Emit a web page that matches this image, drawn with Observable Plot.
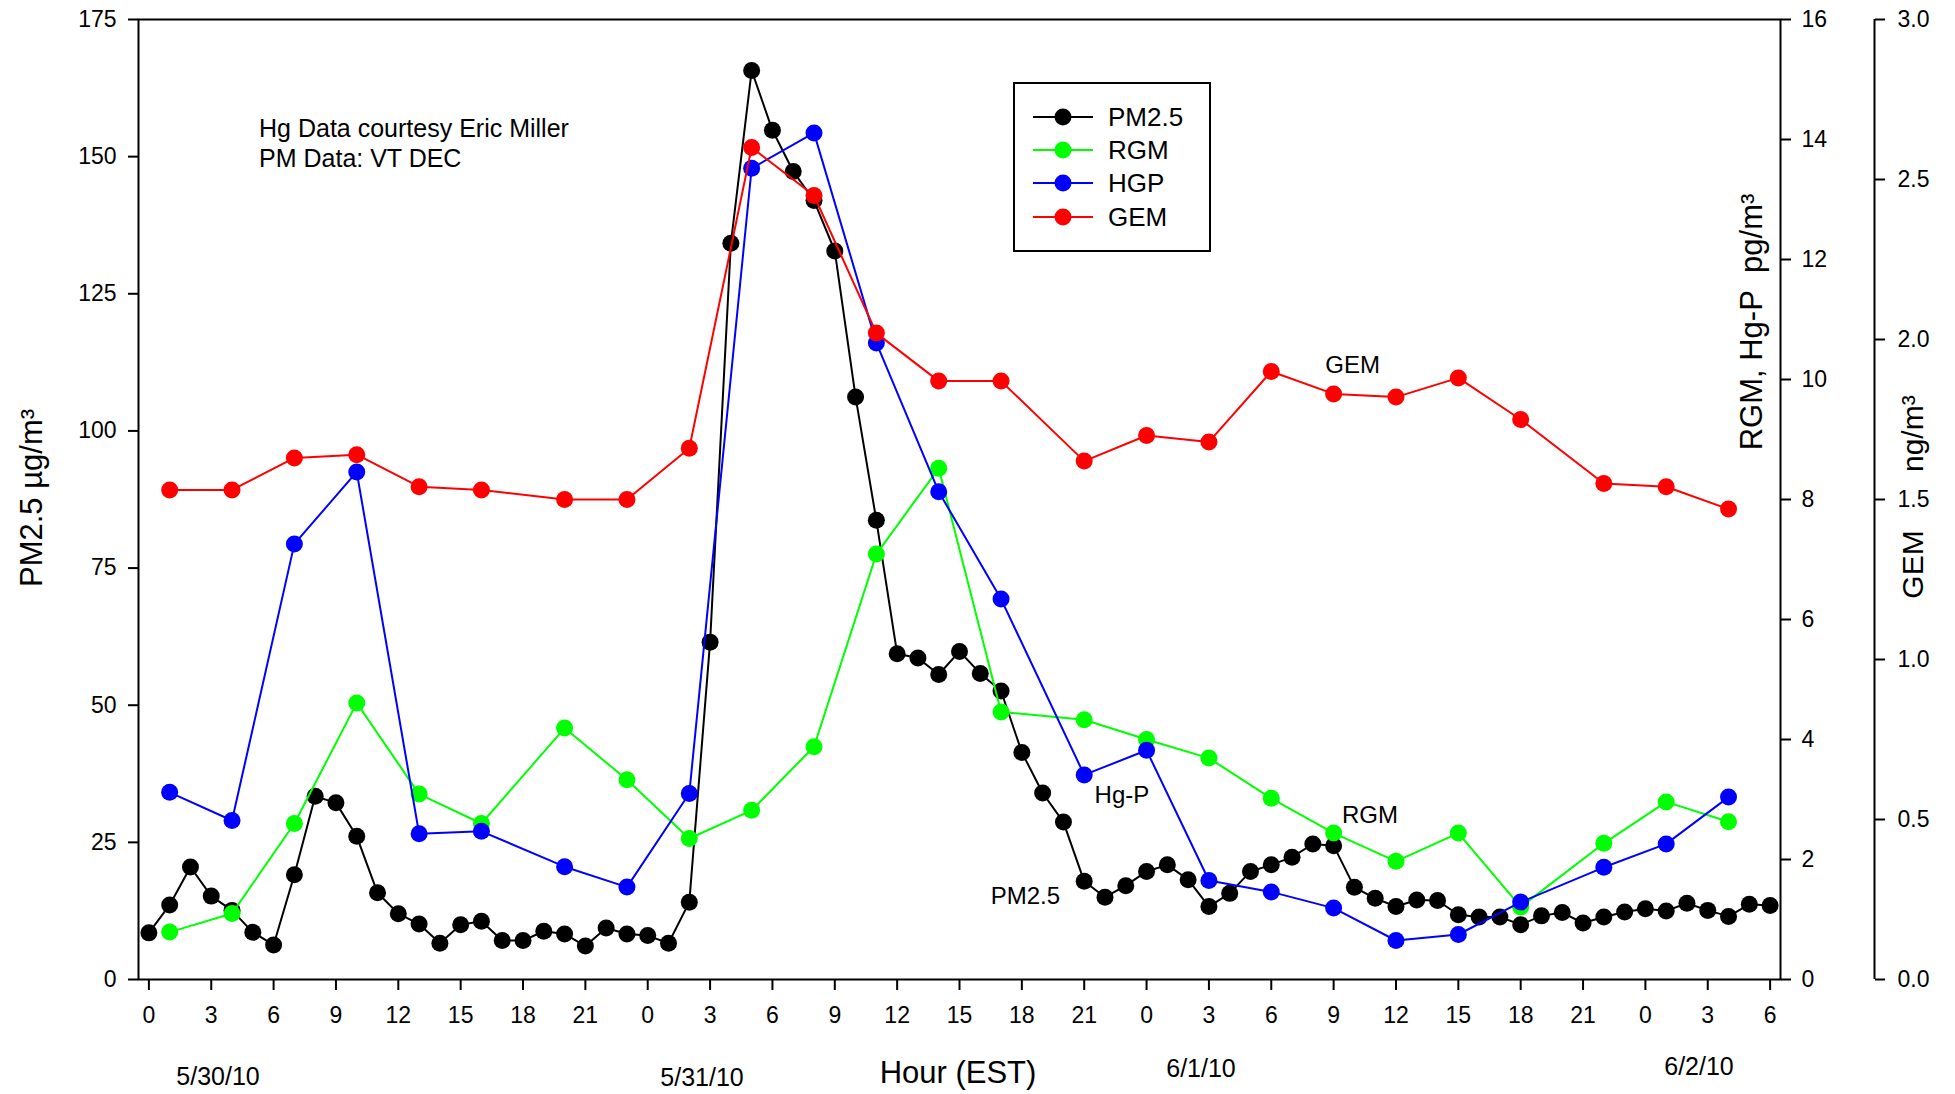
<!DOCTYPE html>
<html>
<head>
<meta charset="utf-8">
<script src="https://cdn.jsdelivr.net/npm/d3@7"></script>
<script src="https://cdn.jsdelivr.net/npm/@observablehq/plot@0.6"></script>
<style>
  html, body { margin: 0; padding: 0; background: #ffffff; }
  #chart svg { display: block; }
</style>
</head>
<body>
<div id="chart"></div>
<script>
// ---------- data ----------
// PM2.5 (µg/m3), hourly, starting 5/30/10 00:00 EST (hour 0) to 6/2/10 06:00 (hour 78)
const pm25 = [
  8.5, 13.6, 20.5, 15.2, 12.6, 8.6, 6.3, 19.1, 33.4, 32.2,
  26.1, 15.8, 12.0, 10.1, 6.6, 10.0, 10.6, 7.1, 7.1, 8.8,
  8.3, 6.1, 9.4, 8.3, 8.0, 6.6, 14.1, 61.5, 134.2, 165.7,
  154.8, 147.3, 142.0, 132.8, 106.2, 83.7, 59.4, 58.6, 55.6, 59.8,
  55.8, 52.6, 41.4, 34.0, 28.7, 17.9, 15.0, 17.1, 19.7, 20.9,
  18.2, 13.3, 15.7, 19.7, 20.9, 22.3, 24.7, 24.4, 16.8, 14.8,
  13.3, 14.5, 14.4, 11.8, 11.4, 11.4, 10.0, 11.6, 12.2, 10.3,
  11.4, 12.3, 12.9, 12.5, 13.9, 12.6, 11.5, 13.7, 13.5
];
// Mercury sampling hours (same hour axis)
const hgHours = [1, 4, 7, 10, 13, 16, 20, 23, 26, 29, 32, 35, 38, 41, 45, 48, 51, 54, 57, 60, 63, 66, 70, 73, 76];
// RGM (pg/m3)
const rgm = [0.79, 1.10, 2.60, 4.61, 3.09, 2.60, 4.19, 3.33, 2.35, 2.82, 3.88, 7.09, 8.52, 4.46, 4.33, 4.00, 3.69, 3.02, 2.44, 1.97, 2.44, 1.21, 2.27, 2.96, 2.63];
// HGP / Hg-P (pg/m3)
const hgp = [3.12, 2.65, 7.26, 8.46, 2.43, 2.47, 1.88, 1.54, 3.10, 13.52, 14.11, 10.61, 8.13, 6.34, 3.41, 3.82, 1.65, 1.46, 1.19, 0.65, 0.75, 1.29, 1.87, 2.26, 3.04];
// GEM (ng/m3)
const gem = [1.53, 1.53, 1.63, 1.64, 1.54, 1.53, 1.50, 1.50, 1.66, 2.60, 2.45, 2.02, 1.87, 1.87, 1.62, 1.70, 1.68, 1.90, 1.83, 1.82, 1.88, 1.75, 1.55, 1.54, 1.47];

const seriesNames = ["PM2.5", "RGM", "HGP", "GEM"];
const seriesColors = ["#000000", "#00ff00", "#0000ff", "#ff0000"];

const pmTicks = [0, 25, 50, 75, 100, 125, 150, 175];
const rgmTicks = [0, 2, 4, 6, 8, 10, 12, 14, 16];
const gemTicks = [0, 0.5, 1.0, 1.5, 2.0, 2.5, 3.0];
const hourTicks = [0, 3, 6, 9, 12, 15, 18, 21, 24, 27, 30, 33, 36, 39, 42, 45, 48, 51, 54, 57, 60, 63, 66, 69, 72, 75, 78];
const dateLabels = ["5/30/10", "5/31/10", "6/1/10", "6/2/10"];

// ---------- build ----------
const PM_MAX = 175, RGM_MAX = 16, GEM_MAX = 3;
const kR = PM_MAX / RGM_MAX, kG = PM_MAX / GEM_MAX;

const pmData = pm25.map((v, i) => ({hour: i, v}));
const hgData = hgHours.map((h, i) => ({hour: h, rgm: rgm[i] * kR, hgp: hgp[i] * kR, gem: gem[i] * kG}));

const FONT = "'Liberation Sans', Arial, Helvetica, sans-serif";
const R = 8.5;

const chart = Plot.plot({
  width: 1955,
  height: 1094,
  marginLeft: 138,
  marginRight: 175,
  marginTop: 19,
  marginBottom: 115,
  style: {fontFamily: FONT, fontSize: "23px", color: "black", background: "white", overflow: "visible"},
  x: {domain: [-0.5, 78.5], axis: null},
  y: {domain: [0, PM_MAX], axis: null},
  marks: [
    Plot.axisY({anchor: "left", ticks: pmTicks, tickSize: 10, tickPadding: 12, strokeWidth: 2, label: null, fontSize: 23}),
    Plot.axisY({anchor: "right", ticks: rgmTicks.map(v => v * kR), tickFormat: d => String(Math.round(d / kR)),
      tickSize: 10, tickPadding: 11, strokeWidth: 2, label: null, fontSize: 23}),
    Plot.axisY({anchor: "right", ticks: gemTicks.map(v => v * kG), tickFormat: d => (d / kG).toFixed(1),
      tickSize: 10, tickPadding: 13, strokeWidth: 2, label: null, fontSize: 23, dx: 94}),
    Plot.ruleX([78.5], {dx: 94, strokeWidth: 2}),
    Plot.axisX({ticks: hourTicks, tickFormat: d => String(d % 24), tickSize: 11, tickPadding: 16,
      strokeWidth: 2, label: null, fontSize: 23}),
    Plot.frame({strokeWidth: 2}),

    Plot.line(pmData, {x: "hour", y: "v", stroke: seriesColors[0], strokeWidth: 2}),
    Plot.dot(pmData, {x: "hour", y: "v", r: R, fill: seriesColors[0], stroke: "none"}),
    Plot.line(hgData, {x: "hour", y: "rgm", stroke: seriesColors[1], strokeWidth: 2}),
    Plot.dot(hgData, {x: "hour", y: "rgm", r: R, fill: seriesColors[1], stroke: "none"}),
    Plot.line(hgData, {x: "hour", y: "hgp", stroke: seriesColors[2], strokeWidth: 2}),
    Plot.dot(hgData, {x: "hour", y: "hgp", r: R, fill: seriesColors[2], stroke: "none"}),
    Plot.line(hgData, {x: "hour", y: "gem", stroke: seriesColors[3], strokeWidth: 2}),
    Plot.dot(hgData, {x: "hour", y: "gem", r: R, fill: seriesColors[3], stroke: "none"}),

    // in-plot annotations (data coordinates)
    Plot.text(["Hg Data courtesy Eric Miller\nPM Data: VT DEC"], {x: 5.3, y: 148.2, textAnchor: "start",
      lineAnchor: "bottom", lineHeight: 1.2, fontSize: 25, fill: "black"}),
    Plot.text(["GEM"], {x: 56.6, y: 110.6, textAnchor: "start", lineAnchor: "bottom", fontSize: 24, fill: "black"}),
    Plot.text(["Hg-P"], {x: 45.5, y: 32.1, textAnchor: "start", lineAnchor: "bottom", fontSize: 24, fill: "black"}),
    Plot.text(["RGM"], {x: 57.4, y: 28.6, textAnchor: "start", lineAnchor: "bottom", fontSize: 24, fill: "black"}),
    Plot.text(["PM2.5"], {x: 40.5, y: 13.7, textAnchor: "start", lineAnchor: "bottom", fontSize: 24, fill: "black"})
  ]
});

document.getElementById("chart").appendChild(chart);

// ---------- outer texts & legend ----------
const svg = d3.select(chart);
const g = svg.append("g").attr("font-family", FONT).attr("fill", "black");

function addText(txt, x, y, size, rotate, anchor) {
  const t = g.append("text")
    .attr("x", x).attr("y", y)
    .attr("font-size", size)
    .attr("text-anchor", anchor || "middle")
    .text(txt);
  if (rotate) t.attr("transform", `rotate(${rotate},${x},${y})`);
  return t;
}

// axis titles
addText("PM2.5 \u00b5g/m\u00b3", 42, 498, 31, -90);
addText("RGM, Hg-P\u00a0\u00a0pg/m\u00b3", 1762, 322, 31, -90);
addText("GEM\u00a0\u00a0\u00a0\u00a0\u00a0\u00a0\u00a0ng/m\u00b3", 1923, 497, 30, -90);
addText("Hour (EST)", 958, 1083, 31, 0);

// date labels
const dateX = [218, 702, 1201, 1699];
const dateY = [1085, 1086, 1077, 1075];
dateLabels.forEach((d, i) => addText(d, dateX[i], dateY[i], 25, 0));

// legend
const lg = svg.append("g").attr("font-family", FONT);
lg.append("rect").attr("x", 1014).attr("y", 83).attr("width", 196).attr("height", 168)
  .attr("fill", "white").attr("stroke", "black").attr("stroke-width", 2);
const rowY = [117, 150, 183, 217];
seriesNames.forEach((name, i) => {
  const y = rowY[i];
  lg.append("line").attr("x1", 1033).attr("x2", 1093).attr("y1", y).attr("y2", y)
    .attr("stroke", seriesColors[i]).attr("stroke-width", 2);
  lg.append("circle").attr("cx", 1063).attr("cy", y).attr("r", R).attr("fill", seriesColors[i]);
  lg.append("text").attr("x", 1108).attr("y", y + 9).attr("font-size", 26)
    .attr("text-anchor", "start").attr("fill", "black").text(name);
});
</script>
</body>
</html>
